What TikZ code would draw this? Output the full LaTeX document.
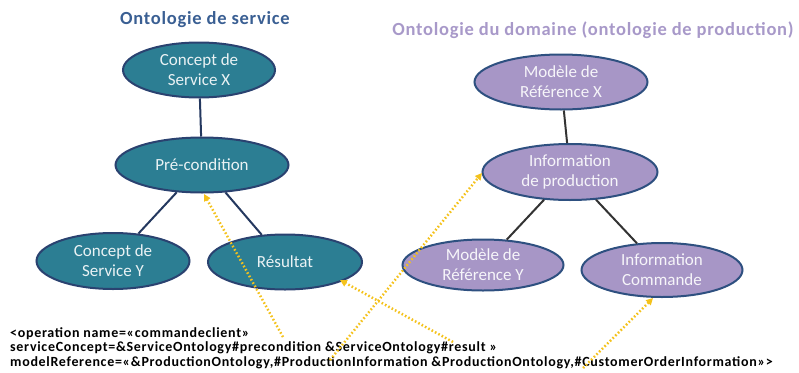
\documentclass[tikz,border=0pt]{standalone}
\usepackage{fontspec}
\setmainfont{Carlito}
\usetikzlibrary{shapes.geometric,arrows.meta}

\definecolor{serviceFill}{HTML}{2C7E93}
\definecolor{serviceLine}{HTML}{2A4270}
\definecolor{domainFill}{HTML}{A796C6}
\definecolor{domainLine}{HTML}{2E5080}
\definecolor{serviceTitle}{HTML}{3A5F93}
\definecolor{domainTitle}{HTML}{A899C9}
\definecolor{tagYellow}{HTML}{F4C21C}

\begin{document}
\begin{tikzpicture}[
    x=1pt, y=-1pt,
    % ellipses de l'ontologie de service
    serviceNode/.style={
        ellipse, draw=serviceLine, line width=2pt, fill=serviceFill,
        text=white!90!serviceFill, align=center,
        font=\fontsize{17}{20}\selectfont, inner sep=0pt
    },
    % ellipses de l'ontologie du domaine
    domainNode/.style={
        ellipse, draw=domainLine, line width=2pt, fill=domainFill,
        text=white!90!domainFill, align=center,
        font=\fontsize{17}{20}\selectfont, inner sep=0pt
    },
    titleText/.style={anchor=base, font=\bfseries\fontsize{18.5}{20}\selectfont\addfontfeature{LetterSpace=4}},
    serviceLink/.style={line width=2pt, draw=serviceLine!85!black},
    domainLink/.style={line width=2pt, draw=black!80},
    % fleches pointillees jaunes
    tagArrow/.style={
        draw=tagYellow, line width=2.5pt, dash pattern=on 1.6pt off 2.2pt,
        -{Triangle[length=2.4mm,width=2.4mm]}
    }
]
    \useasboundingbox (0,0) rectangle (799,372);

    % titres
    \node[titleText, text=serviceTitle] (serviceTitle) at (205,24) {Ontologie de service};
    \node[titleText, text=domainTitle] (domainTitle) at (593,35) {Ontologie du domaine (ontologie de production)};

    % Ontologie de service
    \node[serviceNode, minimum width=152pt, minimum height=55pt] (conceptX) at (199,70) {Concept de\\Service X};
    \node[serviceNode, minimum width=173pt, minimum height=55pt] (precond) at (202,165) {Pré-condition};
    \node[serviceNode, minimum width=153pt, minimum height=56pt] (conceptY) at (113,261) {Concept de\\Service Y};
    \node[serviceNode, minimum width=154pt, minimum height=55pt] (resultat) at (285,262) {Résultat};

    \draw[serviceLink] (conceptX) -- (precond);
    \draw[serviceLink] (precond) -- (conceptY);
    \draw[serviceLink] (precond) -- (resultat);

    % Ontologie du domaine
    \node[domainNode, minimum width=173pt, minimum height=55pt] (refX) at (561,82) {Modèle de\\Référence X};
    \node[domainNode, minimum width=175pt, minimum height=56pt] (infoProd) at (570,172) {Information\\de production};
    \node[domainNode, minimum width=161pt, minimum height=51pt] (refY) at (483,265) {Modèle de\\Référence Y};
    \node[domainNode, minimum width=161pt, minimum height=54pt] (infoCmd) at (662,270) {Information\\Commande};

    \draw[domainLink] (refX) -- (infoProd);
    \draw[domainLink] (infoProd) -- (refY);
    \draw[domainLink] (infoProd) -- (infoCmd);

    % description de l'operation
    \node[anchor=base west, align=left, inner sep=0pt,
          font=\bfseries\fontsize{14}{14.5}\selectfont\addfontfeature{LetterSpace=5}]
        (operation) at (10,366) {<operation name=«commandeclient»\\
        serviceConcept=\&ServiceOntology\#precondition \&ServiceOntology\#result »\\
        modelReference=«\&ProductionOntology,\#ProductionInformation \&ProductionOntology,\#CustomerOrderInformation»>};

    % points de depart des fleches
    \coordinate (precondTag) at (283,337);
    \coordinate (prodTag) at (330,360);
    \coordinate (resultTag) at (453,342);
    \coordinate (orderTag) at (583,368);

    \draw[tagArrow] (precondTag) -- (204,194);
    \draw[tagArrow] (prodTag) -- (482,173);
    \draw[tagArrow] (resultTag) -- (340,280);
    \draw[tagArrow] (orderTag) -- (653,298);
\end{tikzpicture}
\end{document}
